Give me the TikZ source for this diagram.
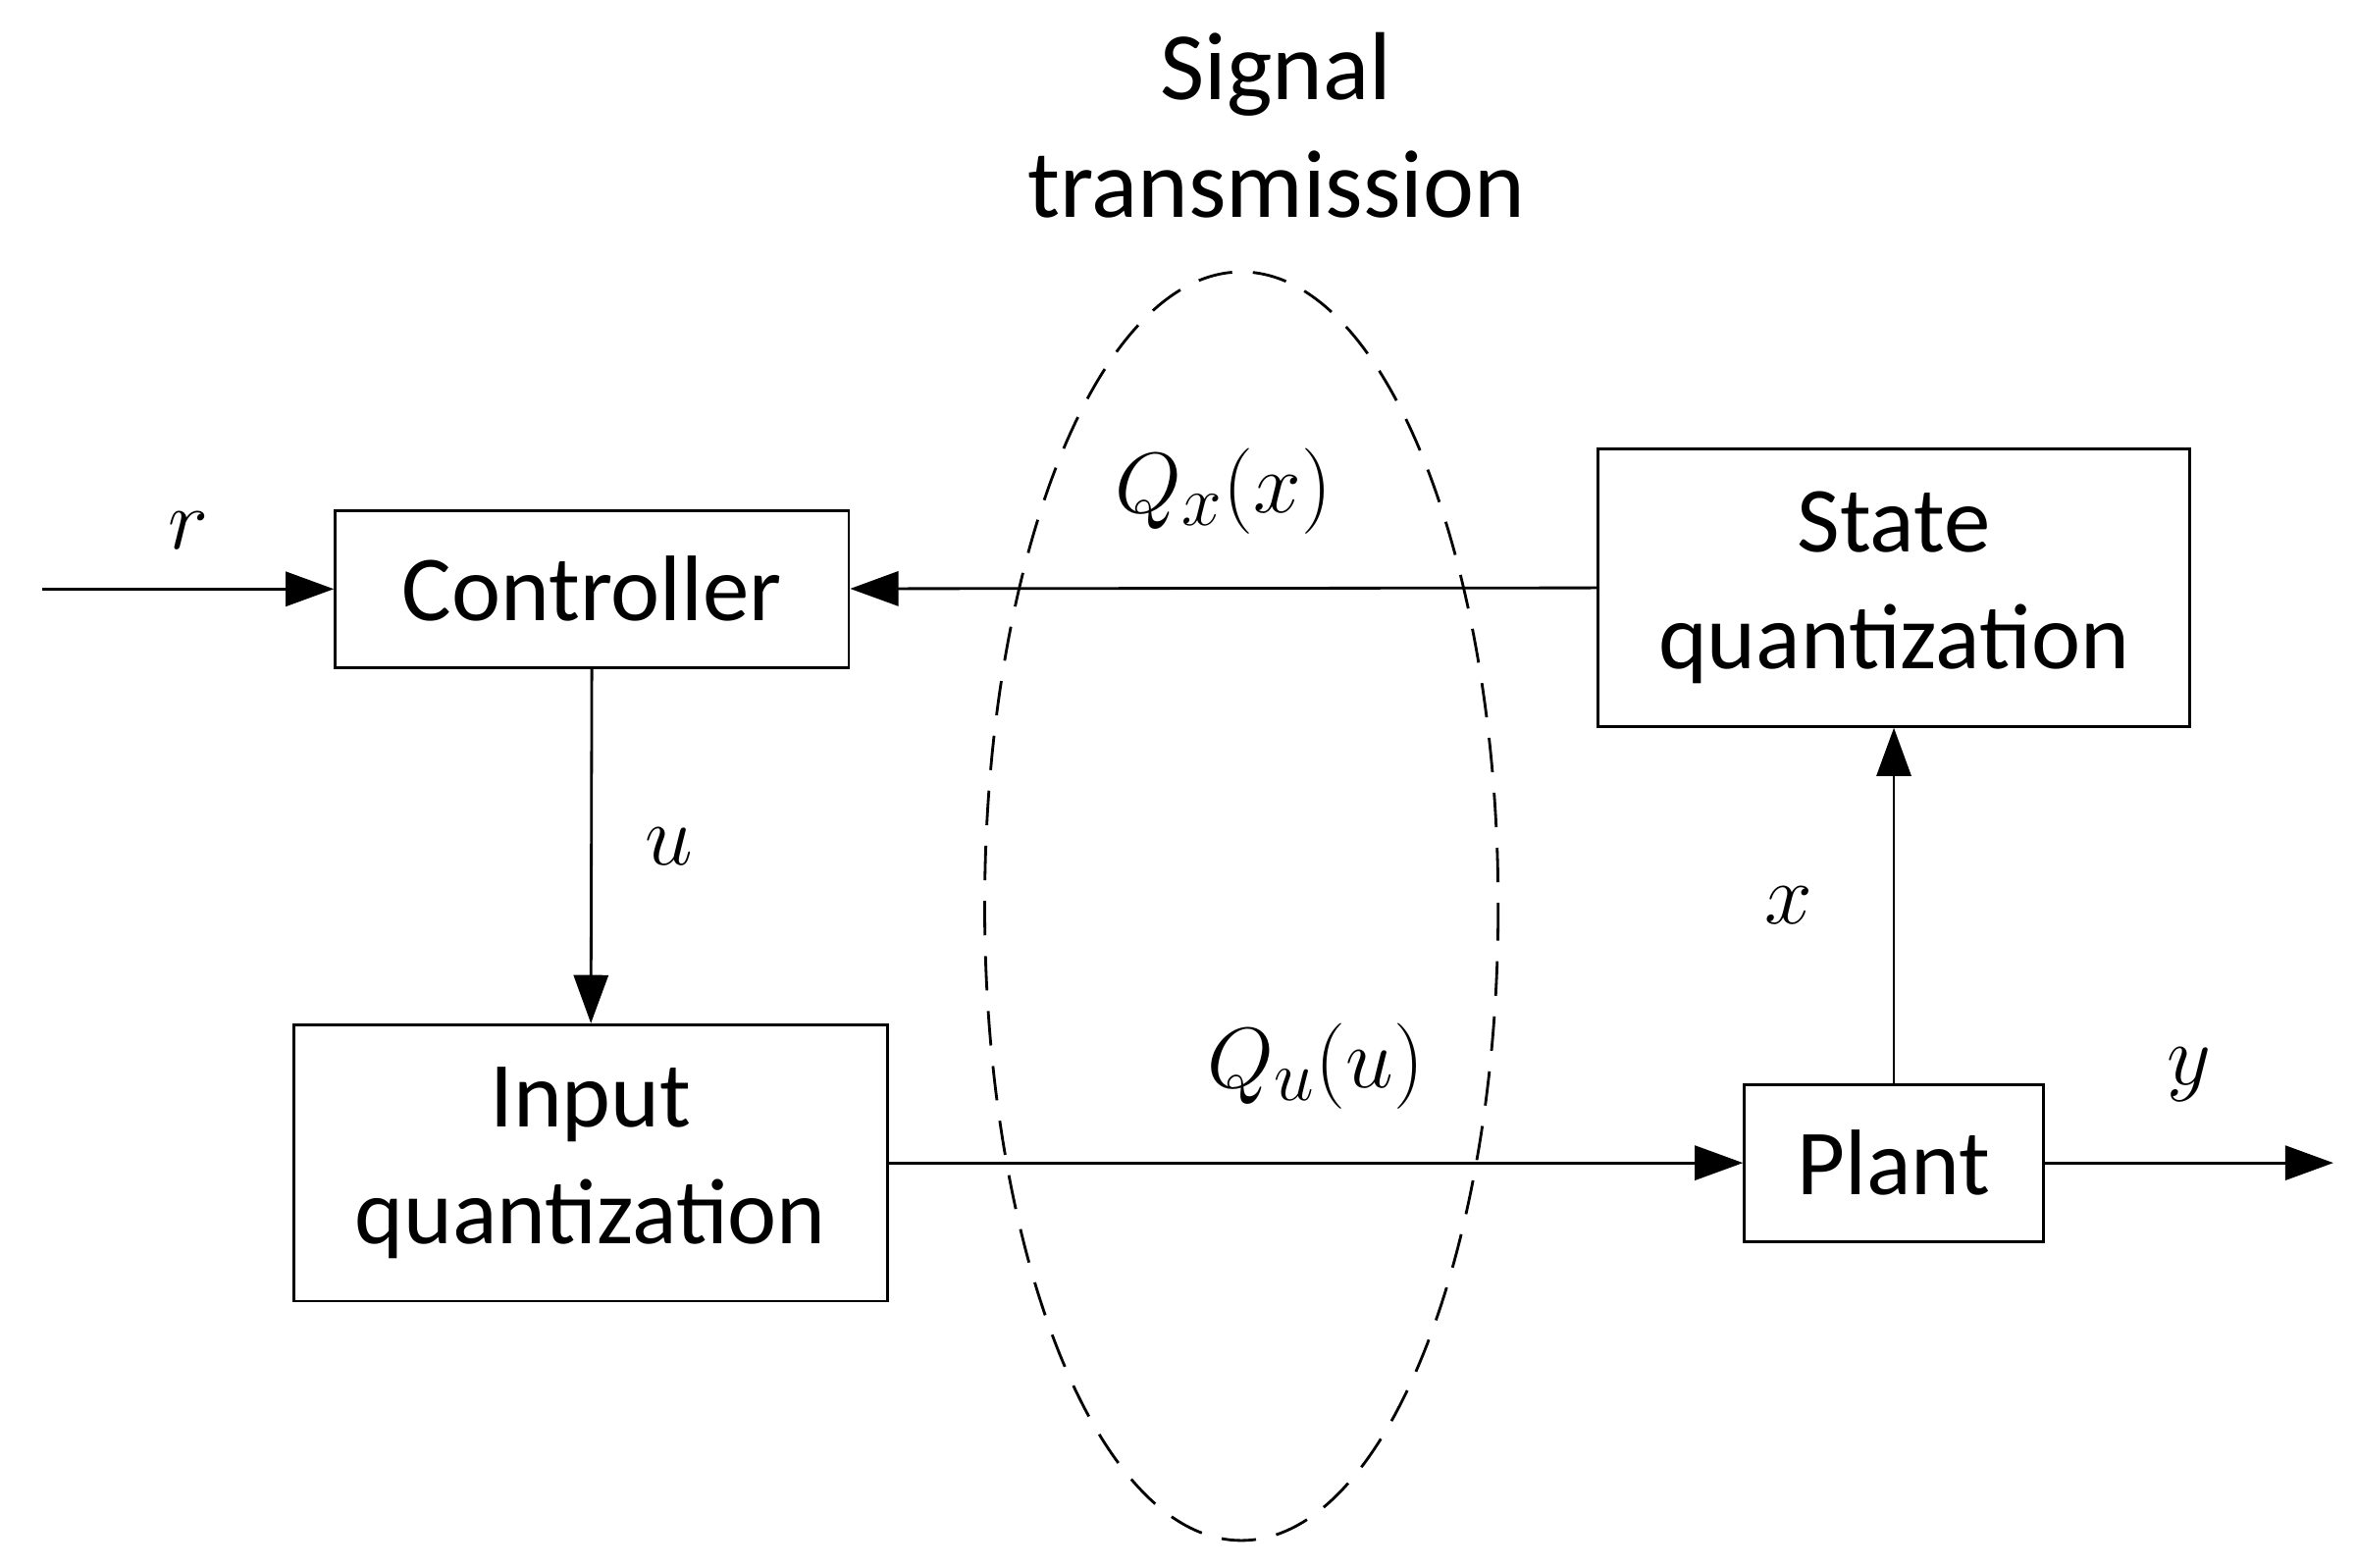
\documentclass[tikz,border=0pt]{standalone}
\usepackage{fontspec}
\setmainfont{Carlito}
\usepackage{amsmath}
\usetikzlibrary{arrows.meta}

\begin{document}
\begin{tikzpicture}[x=0.01539cm,y=-0.01539cm,
    block/.style={draw,thick,align=center,font=\fontsize{27}{34}\selectfont},
    lbl/.style={font=\fontsize{28}{34}\selectfont},
    sig/.style={thick,-{Triangle[length=14pt,width=10pt]}}]
            \useasboundingbox (0,0) rectangle (1560,1038);
            \node[block,minimum width=340*0.01539cm,minimum height=104*0.01539cm] (ctrl) at (392,390) {Controller};
            \node[block,minimum width=392*0.01539cm,minimum height=184*0.01539cm] (sq) at (1254,389) {State\\quantization};
            \node[block,minimum width=393*0.01539cm,minimum height=183*0.01539cm] (iq) at (391,770) {Input\\quantization};
            \node[block,minimum width=198*0.01539cm,minimum height=104*0.01539cm] (plant) at (1254,770) {Plant};
            \draw[thick,dashed,dash pattern=on 10pt off 6pt] (822,600) ellipse [x radius=170, y radius=420];
            \node[lbl,align=center] (title) at (845,83) {Signal\\transmission};
            \coordinate (rin) at (28,390);
            \coordinate (yout) at (1545,770);
            \draw[sig] (rin) -- (ctrl) node[pos=0.5,above=8pt,lbl] {$r$};
            \draw[sig] (sq) -- (ctrl) node[pos=0.5,above=12pt,lbl] {$Q_x(x)$};
            \draw[sig] (ctrl) -- (iq) node[pos=0.5,right=12pt,lbl] {$u$};
            \draw[sig] (iq) -- (plant) node[pos=0.5,above=12pt,lbl] {$Q_u(u)$};
            \draw[sig] (plant) -- (sq) node[pos=0.5,left=20pt,lbl] {$x$};
            \draw[sig] (plant) -- (yout) node[pos=0.5,above=14pt,lbl] {$y$};
        \end{tikzpicture}
\end{document}
